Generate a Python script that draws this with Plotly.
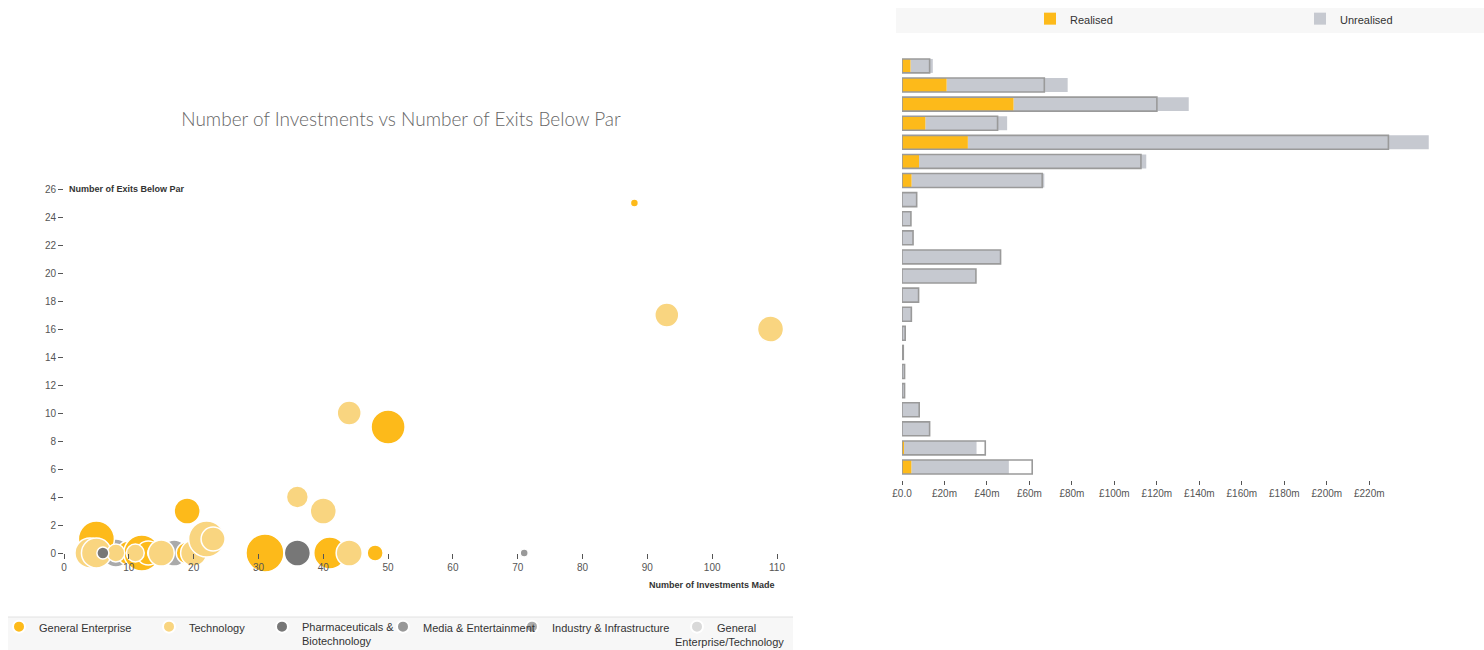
import plotly.graph_objects as go

W, H = 1484, 650

# ---------------- Bubble chart data ----------------
categories = ["General Enterprise", "Technology", "Pharmaceuticals &<br>Biotechnology",
              "Media & Entertainment", "Industry & Infrastructure", "General"]
category_second_line = ["", "", "", "", "", "Enterprise/Technology"]
cat_colors = ["#FDBA1A", "#F9D580", "#777777", "#999999", "#AAAAAA", "#D9D9D9"]

ge_investments = [88, 50, 19, 31, 41, 48, 5, 10, 12, 13, 19]
ge_exits_below_par = [25, 9, 3, 0, 0, 0, 1, 0, 0, 0, 0]
ge_invested = [8, 145, 85, 180, 128, 32, 162, 72, 162, 72, 60]

tech_investments = [93, 109, 44, 36, 40, 44, 4, 5, 8, 11, 14, 15, 20, 22, 23]
tech_exits_below_par = [17, 16, 10, 4, 3, 0, 0, 0, 0, 0, 0, 0, 0, 1, 1]
tech_invested = [72, 85, 72, 60, 85, 85, 112, 112, 40, 40, 25, 85, 85, 162, 72]

pharma_investments = [36, 6]
pharma_exits_below_par = [0, 0]
pharma_invested = [85, 18]

media_investments = [71]
media_exits_below_par = [0]
media_invested = [8]

industry_investments = [17, 8]
industry_exits_below_par = [0, 0]
industry_invested = [85, 98]

getech_investments = [4]
getech_exits_below_par = [0]
getech_invested = [50]

x_ticks = list(range(0, 111, 10))
y_ticks = list(range(0, 27, 2))

# ---------------- Bar chart data ----------------
rows = list(range(22))
realised = [4, 21, 52.5, 11, 31, 8, 4.5, 0, 0, 0, 0, 0, 0, 0, 0, 0, 0, 0, 0, 0, 0.5, 4.4]
unrealised = [10.5, 57, 82.5, 38.5, 217, 107, 62.5, 6.9, 4.2, 5.2, 46.4, 34.8, 7.8, 4.4,
              1.5, 0.6, 1.2, 1.2, 8.1, 13, 34.6, 45.9]
cost = [13, 67, 120, 45, 229, 112.5, 66, 6.9, 4.2, 5.2, 46.4, 34.8, 7.8, 4.4,
        1.5, 0.6, 1.2, 1.2, 8.1, 13, 39.2, 61.3]
bar_ticks = list(range(0, 221, 20))
bar_tick_labels = ["£0.0"] + [f"£{v}m" for v in bar_ticks[1:]]

# ---------------- Figure ----------------
fig = go.Figure()

series = [
    (ge_investments, ge_exits_below_par, ge_invested),
    (tech_investments, tech_exits_below_par, tech_invested),
    (pharma_investments, pharma_exits_below_par, pharma_invested),
    (media_investments, media_exits_below_par, media_invested),
    (industry_investments, industry_exits_below_par, industry_invested),
    (getech_investments, getech_exits_below_par, getech_invested),
]
legend_ids = ["legend", "legend2", "legend3", "legend4", "legend5", "legend6"]
legend_text_x = [39, 189, 302, 423, 552, 717]   # px where each legend label starts

draw_order = [5, 4, 0, 1, 3, 2]
for i in draw_order:
    xs, ys, ss = series[i]
    fig.add_trace(go.Scatter(
        x=xs, y=ys, mode="markers", name=categories[i],
        marker=dict(size=ss, sizemode="area", sizeref=0.25, color=cat_colors[i],
                    line=dict(color="white", width=1.5), opacity=1),
        cliponaxis=False, xaxis="x", yaxis="y", legend=legend_ids[i], hoverinfo="skip"))

bw = 0.73
fig.add_trace(go.Bar(y=rows, x=unrealised, base=realised, orientation="h", width=bw,
                     name="Unrealised", marker=dict(color="#C6C9D0", line=dict(width=0)),
                     xaxis="x2", yaxis="y2", legend="legend8", hoverinfo="skip"))
fig.add_trace(go.Bar(y=rows, x=realised, base=[0] * len(rows), orientation="h", width=bw,
                     name="Realised", marker=dict(color="#FDBA1A", line=dict(width=0)),
                     xaxis="x2", yaxis="y2", legend="legend7", hoverinfo="skip"))
fig.add_trace(go.Bar(y=rows, x=cost, base=[0] * len(rows), orientation="h", width=bw,
                     name="Cost", showlegend=False,
                     marker=dict(color="rgba(0,0,0,0)", line=dict(color="#9A9A9A", width=1.6)),
                     xaxis="x2", yaxis="y2", hoverinfo="skip"))

tickfont = dict(family="Liberation Sans, Arial", size=10, color="#555")
legfont = dict(family="Liberation Sans, Arial", size=11, color="#333")


def leg(text_x, top_y):
    return dict(orientation="v", x=(text_x - 40) / W, y=1 - top_y / H, xanchor="left",
                yanchor="top", bgcolor="rgba(0,0,0,0)", font=legfont, valign="top",
                itemsizing="constant", borderwidth=0, itemclick=False, itemdoubleclick=False)


legends = {legend_ids[k]: leg(legend_text_x[k], 613) for k in range(6)}
legends["legend7"] = leg(1070, 5)
legends["legend8"] = leg(1340, 5)

annotations = [
    dict(text="<b>Number of Exits Below Par</b>", xref="paper", yref="paper",
         x=67 / W, y=1 - 189 / H, xanchor="left", yanchor="middle", showarrow=False,
         font=dict(family="Liberation Sans, Arial", size=9, color="#333")),
    dict(text="<b>Number of Investments Made</b>", xref="paper", yref="paper",
         x=777 / W, y=1 - 585 / H, xanchor="right", yanchor="middle", showarrow=False,
         font=dict(family="Liberation Sans, Arial", size=9, color="#333")),
]
for k, second in enumerate(category_second_line):
    if second:
        annotations.append(dict(text=second, xref="paper", yref="paper",
                                x=(legend_text_x[k] + 12) / W, y=1 - 642 / H,
                                xanchor="center", yanchor="middle", showarrow=False,
                                font=legfont))

fig.update_layout(
    width=W, height=H, autosize=False,
    margin=dict(l=0, r=0, t=0, b=0, autoexpand=False),
    paper_bgcolor="white", plot_bgcolor="rgba(0,0,0,0)",
    barmode="overlay", showlegend=True,
    title=dict(text="Number of Investments vs Number of Exits Below Par",
               x=401 / W, xanchor="center", y=1 - 119 / H, yanchor="middle",
               xref="container", yref="container", automargin=False,
               font=dict(family="Lato", size=19, color="#666", weight=300)),
    xaxis=dict(domain=[64 / W, 777 / W], range=[0, 110], tickvals=x_ticks,
               showgrid=False, zeroline=False, showline=False,
               ticks="outside", ticklen=5, tickcolor="#555", tickwidth=1,
               tickfont=tickfont, anchor="y"),
    yaxis=dict(domain=[(H - 553) / H, (H - 189) / H], range=[0, 26], tickvals=y_ticks,
               showgrid=False, zeroline=False, showline=False,
               ticks="outside", ticklen=5, tickcolor="#555", tickwidth=1,
               tickfont=tickfont, anchor="x"),
    xaxis2=dict(domain=[902 / W, (902 + 250 * 2.124) / W], range=[0, 250],
                tickvals=bar_ticks, ticktext=bar_tick_labels,
                showgrid=False, zeroline=False, showline=False,
                ticks="outside", ticklen=4, tickcolor="#555", tickwidth=1,
                tickfont=tickfont, anchor="y2"),
    yaxis2=dict(domain=[(H - 480) / H, (H - 56) / H], range=[21.68, -0.52],
                showticklabels=False, showgrid=False, zeroline=False, showline=False,
                ticks="", anchor="x2"),
    shapes=[
        dict(type="rect", xref="paper", yref="paper", x0=8 / W, x1=793 / W,
             y0=0, y1=1 - 617 / H, fillcolor="#F7F7F7", line=dict(width=0), layer="below"),
        dict(type="line", xref="paper", yref="paper", x0=8 / W, x1=793 / W,
             y0=1 - 617 / H, y1=1 - 617 / H, line=dict(color="#E2E2E2", width=1), layer="below"),
        dict(type="rect", xref="paper", yref="paper", x0=896 / W, x1=1,
             y0=1 - 33 / H, y1=1 - 8 / H, fillcolor="#F7F7F7", line=dict(width=0), layer="below"),
    ],
    annotations=annotations,
    **legends,
)

fig.write_html("out.html", config={"displayModeBar": False},
               post_script="document.body.style.margin='0';document.body.style.overflow='hidden';")
